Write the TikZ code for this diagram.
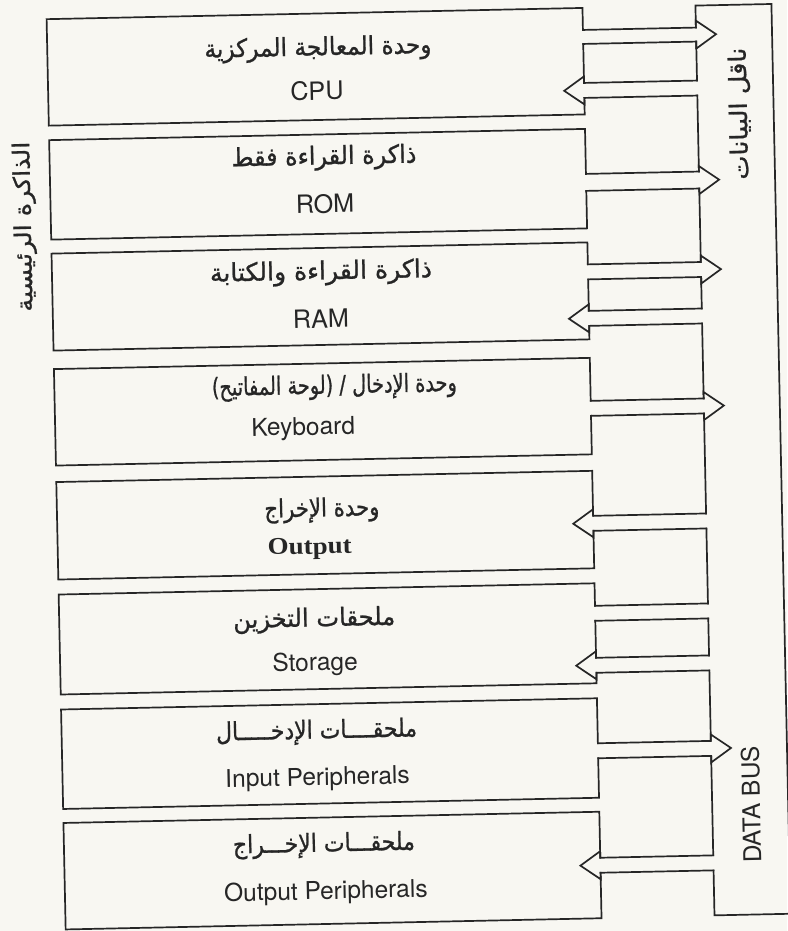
\documentclass[tikz,border=0pt]{standalone}
\usepackage{graphicx}
\usepackage{fontspec}
\setmainfont{TeX Gyre Heros}
\newfontfamily\arabicfont[Script=Arabic,FakeBold=1]{DejaVu Sans}
\newfontfamily\serifface{Liberation Serif}
\TeXXeTstate=1
\definecolor{ink}{HTML}{262626}
\definecolor{paper}{HTML}{F8F7F2}
% a line of text brought to a given width, height kept
\newcommand{\fitw}[2]{\resizebox{#1pt}{\height}{#2}}

\begin{document}
\begin{tikzpicture}[x=1pt,y=-1pt,
  wire/.style={draw=ink,line width=1.7pt,line join=miter,line cap=rect},
  artext/.style={font=\fontsize{25}{29}\arabicfont,text=ink,inner sep=0pt},
  latin/.style={font=\fontsize{24.5}{28}\selectfont,text=ink,inner sep=0pt,anchor=base},
  biglatin/.style={latin,font=\fontsize{25.2}{28}\selectfont},
  vlabel/.style={rotate=90,inner sep=0pt,text=ink}]
\fill[paper] (0,0) rectangle (787,931);
\useasboundingbox (0,0) rectangle (787,931);
\begin{scope}[rotate around={1.2:(393,465)},transform shape]

% ---- module boxes (right side left open where a channel leaves) ----
\draw[wire] (592,34) -- (592,12) -- (56,12) -- (56,118.5) -- (592,118.5) -- (592,102);
\draw[wire] (592,48) -- (592,87);
\draw[wire] (592,178) -- (592,133) -- (56,133) -- (56,232.5) -- (592,232.5) -- (592,195);
\draw[wire] (592,268.5) -- (592,246.5) -- (56,246.5) -- (56,343.5) -- (592,343.5) -- (592,330);
\draw[wire] (592,283.5) -- (592,315);
\draw[wire] (592,405) -- (592,362) -- (56,362) -- (56,458.5) -- (592,458.5) -- (592,420);
\draw[wire] (592,520) -- (592,475) -- (56,475) -- (56,572.5) -- (592,572.5) -- (592,535);
\draw[wire] (592,610) -- (592,587.5) -- (56,587.5) -- (56,687.5) -- (592,687.5) -- (592,677);
\draw[wire] (592,625) -- (592,662);
\draw[wire] (592,747.5) -- (592,702.5) -- (56,702.5) -- (56,802) -- (592,802) -- (592,762.5);
\draw[wire] (592,862) -- (592,816) -- (56,816) -- (56,922.5) -- (592,922.5) -- (592,877);

% ---- data bus outline ----
\draw[wire] (705,34) -- (705,12) -- (781,12) -- (781,922) -- (705,922) -- (705,877);
\draw[wire] (705,48) -- (705,87);
\draw[wire] (705,102) -- (705,178);
\draw[wire] (705,195) -- (705,268.5);
\draw[wire] (705,283.5) -- (705,315);
\draw[wire] (705,330) -- (705,405);
\draw[wire] (705,420) -- (705,520);
\draw[wire] (705,535) -- (705,610);
\draw[wire] (705,625) -- (705,662);
\draw[wire] (705,677) -- (705,747.5);
\draw[wire] (705,762.5) -- (705,862);

% ---- channels towards the bus (head inside the bus) ----
\draw[wire] (592,34) -- (705,34) -- (705,27) -- (725,41) -- (705,55) -- (705,48) -- (592,48);
\draw[wire] (592,178) -- (705,178) -- (705,172.5) -- (725,186.5) -- (705,200.5) -- (705,195) -- (592,195);
\draw[wire] (592,268.5) -- (705,268.5) -- (705,262) -- (725,276) -- (705,290) -- (705,283.5) -- (592,283.5);
\draw[wire] (592,405) -- (705,405) -- (705,398.5) -- (725,412.5) -- (705,426.5) -- (705,420) -- (592,420);
\draw[wire] (592,747.5) -- (705,747.5) -- (705,741) -- (725,755) -- (705,769) -- (705,762.5) -- (592,762.5);
% open channel of the storage unit
\draw[wire] (592,610) -- (705,610);
\draw[wire] (592,625) -- (705,625);

% ---- channels from the bus (head at the module) ----
\draw[wire] (705,87) -- (592,87) -- (592,80.5) -- (572,94.5) -- (592,108.5) -- (592,102) -- (705,102);
\draw[wire] (705,315) -- (592,315) -- (592,308.5) -- (572,322.5) -- (592,336.5) -- (592,330) -- (705,330);
\draw[wire] (705,520) -- (592,520) -- (592,513.5) -- (572,527.5) -- (592,541.5) -- (592,535) -- (705,535);
\draw[wire] (705,662) -- (592,662) -- (592,655.5) -- (572,669.5) -- (592,683.5) -- (592,677) -- (705,677);
\draw[wire] (705,862) -- (592,862) -- (592,855.5) -- (572,869.5) -- (592,883.5) -- (592,877) -- (705,877);

% ---- labels ----
\node[artext] (cpuar) at (326.7,47.4) {\fitw{227}{\beginR وحدة المعالجة المركزية\endR}};
\node[biglatin] (cpu) at (324.8,98.4) {CPU};
\node[artext] (romar) at (330.4,156.6) {\fitw{185}{\beginR ذاكرة القراءة فقط\endR}};
\node[biglatin] (rom) at (330.5,211.6) {ROM};
\node[artext] (ramar) at (325,271.5) {\fitw{222}{\beginR ذاكرة القراءة والكتابة\endR}};
\node[biglatin] (ram) at (324,326.5) {RAM};
\node[artext] (kbar) at (336,385.8) {\fitw{245}{\beginR وحدة الإدخال / (لوحة المفاتيح)\endR}};
\node[latin] (kb) at (304,433.3) {Keyboard};
\node[artext] (outar) at (321,508.5) {\fitw{115}{\beginR وحدة الإخراج\endR}};
\node[latin,font=\fontsize{24}{28}\serifface\bfseries] (out) at (308,552.3) {\fitw{84}{Output}};
\node[artext] (stoar) at (311,618.3) {\fitw{162}{\beginR ملحقات التخزين\endR}};
\node[latin] (sto) at (311,669) {Storage};
\node[artext] (inpar) at (311,730.4) {\fitw{201}{\beginR ملحقــــات الإدخـــــال\endR}};
\node[latin] (inp) at (311,783.8) {Input Peripherals};
\node[artext] (outpar) at (316,843.6) {\fitw{182}{\beginR ملحقـــات الإخـــراج\endR}};
\node[latin] (outp) at (317,897.8) {Output Peripherals};

\node[vlabel,font=\fontsize{23}{26}\arabicfont] (mem) at (30,219) {\fitw{170}{\beginR الذاكرة الرئيسية\endR}};
\node[vlabel,font=\fontsize{24}{26}\arabicfont] (busar) at (747,121) {\fitw{132}{\beginR ناقل البيانات\endR}};
\node[vlabel,font=\fontsize{24.5}{28}\selectfont] (bus) at (744,812) {DATA BUS};
\end{scope}
\end{tikzpicture}
\end{document}
